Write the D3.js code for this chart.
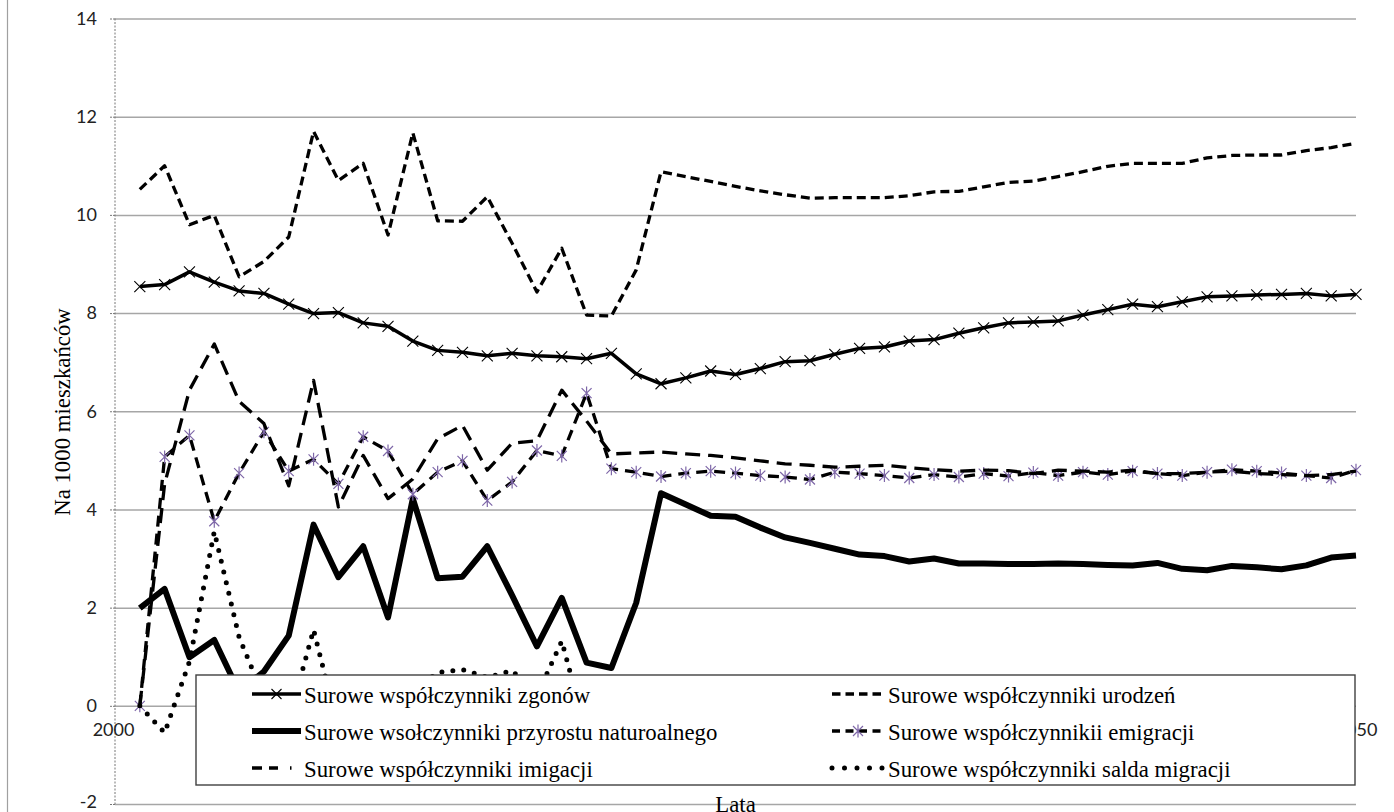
<!DOCTYPE html>
<html><head><meta charset="utf-8">
<script src="https://cdn.jsdelivr.net/npm/d3@7"></script>
<style>
html,body{margin:0;padding:0;background:#fff;}
svg{display:block;}
</style></head>
<body>
<svg id="chart" width="1394" height="812"></svg>
<script>
// ---------- DATA ----------
const years = [2001,2002,2003,2004,2005,2006,2007,2008,2009,2010,
  2011,2012,2013,2014,2015,2016,2017,2018,2019,2020,
  2021,2022,2023,2024,2025,2026,2027,2028,2029,2030,
  2031,2032,2033,2034,2035,2036,2037,2038,2039,2040,
  2041,2042,2043,2044,2045,2046,2047,2048,2049,2050];

const zgony = [8.54,8.58,8.84,8.63,8.45,8.40,8.18,7.99,8.01,7.80,
  7.73,7.43,7.24,7.20,7.13,7.18,7.13,7.11,7.07,7.18,
  6.76,6.56,6.68,6.82,6.75,6.87,7.01,7.03,7.16,7.28,
  7.31,7.43,7.46,7.59,7.70,7.80,7.82,7.84,7.96,8.07,
  8.18,8.13,8.23,8.33,8.35,8.37,8.38,8.40,8.35,8.38];

const urodzenia = [10.52,11.00,9.80,9.99,8.74,9.05,9.55,11.70,10.70,11.05,
  9.59,11.67,9.88,9.87,10.37,9.42,8.43,9.32,7.96,7.94,
  8.88,10.88,10.78,10.68,10.58,10.49,10.41,10.34,10.35,10.35,
  10.35,10.39,10.47,10.48,10.57,10.66,10.69,10.78,10.88,10.99,
  11.05,11.05,11.05,11.16,11.21,11.22,11.22,11.31,11.37,11.46];

const przyrost = [1.99,2.38,0.99,1.34,0.28,0.70,1.43,3.69,2.62,3.25,
  1.80,4.22,2.60,2.63,3.25,2.25,1.21,2.20,0.88,0.77,
  2.10,4.33,4.10,3.87,3.85,3.63,3.43,3.32,3.20,3.08,
  3.05,2.94,3.00,2.90,2.90,2.89,2.89,2.90,2.89,2.87,
  2.86,2.91,2.79,2.76,2.85,2.82,2.78,2.86,3.02,3.06];

const emigracja = [0.00,5.07,5.51,3.76,4.74,5.58,4.78,5.02,4.52,5.48,
  5.19,4.31,4.76,4.99,4.18,4.56,5.20,5.09,6.37,4.83,
  4.76,4.67,4.74,4.78,4.74,4.69,4.66,4.61,4.76,4.73,
  4.69,4.64,4.71,4.66,4.73,4.68,4.75,4.69,4.76,4.71,
  4.78,4.73,4.69,4.76,4.81,4.78,4.74,4.69,4.64,4.80];

const imigracja = [0.00,4.52,6.43,7.37,6.20,5.75,4.48,6.63,4.05,5.10,
  4.22,4.62,5.44,5.71,4.80,5.35,5.40,6.43,5.80,5.13,
  5.15,5.17,5.13,5.10,5.05,4.99,4.93,4.90,4.86,4.88,
  4.90,4.85,4.81,4.78,4.80,4.79,4.73,4.80,4.78,4.76,
  4.80,4.73,4.73,4.76,4.78,4.73,4.71,4.69,4.71,4.78];

const saldo = [0.00,-0.55,0.90,3.55,1.40,0.17,-0.30,1.55,-0.47,-0.38,
  -0.97,0.28,0.68,0.74,0.58,0.72,0.21,1.32,-0.57,0.30,
  0.39,0.50,0.39,0.32,0.31,0.30,0.27,0.29,0.10,0.15,
  0.21,0.21,0.10,0.12,0.07,0.11,-0.02,0.11,0.02,0.05,
  0.02,0.00,0.04,0.00,-0.03,-0.05,-0.03,0.00,0.07,-0.02];

const yTicks = [-2,0,2,4,6,8,10,12,14];
const yTickLabels = ["-2","0","2","4","6","8","10","12","14"];
const xTicks = [2000,2050];
const xTickLabels = ["2000","2050"];

const legendLabels = [
  "Surowe współczynniki zgonów",
  "Surowe współczynniki urodzeń",
  "Surowe wsołczynniki przyrostu naturoalnego",
  "Surowe współczynnikii emigracji",
  "Surowe współczynniki imigacji",
  "Surowe współczynniki salda migracji"
];
const yTitle = "Na 1000 mieszkańców";
const xTitle = "Lata";

// ---------- LAYOUT ----------
const svg = d3.select("#chart");
const L = 115, R = 1356, T = 18.5, B = 804;
const x = d3.scaleLinear().domain([2000, 2050]).range([L, R]);
const y = d3.scaleLinear().domain([-2, 14]).range([B, T]);
const purple = "#7E67A8";
const serif = "'Liberation Serif','Times New Roman',serif";
const sans = "Lato,'Open Sans',sans-serif";

// chart border (left)
svg.append("line").attr("x1",7.5).attr("x2",7.5).attr("y1",0).attr("y2",812)
  .attr("stroke","#a0a0a0").attr("stroke-width",1.2);

// gridlines
const grid = svg.append("g").attr("transform",`translate(${L},0)`)
  .call(d3.axisLeft(y).tickValues(yTicks).tickSize(-(R-L)).tickFormat(""));
grid.select(".domain").remove();
grid.selectAll("line").attr("stroke","#a6a6a6").attr("stroke-width",1.5);

// y axis (dotted line + ticks)
const yAxis = svg.append("g").attr("transform",`translate(${L},0)`)
  .call(d3.axisLeft(y).tickValues(yTicks).tickSize(6).tickPadding(12)
    .tickFormat((d,i)=>yTickLabels[i]));
yAxis.select(".domain").remove();
yAxis.selectAll(".tick line").attr("stroke","#777").attr("stroke-dasharray","2,1");
yAxis.selectAll("text").attr("font-family",sans).attr("font-size","18px").attr("fill","#222");
yAxis.selectAll(".tick").filter(d=>d===-2).select("text").attr("dy","0.2em");
svg.append("line").attr("x1",L).attr("x2",L).attr("y1",T).attr("y2",B)
  .attr("stroke","#777").attr("stroke-width",1).attr("stroke-dasharray","2,1.5");

// x axis at y=0 (inner labels hidden behind legend in the original)
const xAxis = svg.append("g").attr("transform",`translate(0,${y(0)})`)
  .call(d3.axisBottom(x).tickValues(xTicks).tickSize(0).tickPadding(17)
    .tickFormat((d,i)=>xTickLabels[i]));
xAxis.select(".domain").remove();
xAxis.selectAll("text").attr("font-family",sans).attr("font-size","18px").attr("fill","#222");
xAxis.selectAll(".tick").filter(d=>d===2000).select("text").attr("dx",-2);

// ---------- SERIES ----------
const line = d3.line().x((d,i)=>x(years[i])).y(d=>y(d));
const g = svg.append("g").attr("fill","none").attr("stroke-linejoin","round");

function path(data, opts){
  const p = g.append("path").datum(data).attr("d", line)
    .attr("stroke", opts.color || "#000").attr("stroke-width", opts.w)
    .attr("fill","none");
  if (opts.dash) p.attr("stroke-dasharray", opts.dash);
  if (opts.cap) p.attr("stroke-linecap", opts.cap);
  return p;
}
function xMarker(sel, cx, cy, r, color, w){
  sel.append("path").attr("d",`M${cx-r},${cy-r}L${cx+r},${cy+r}M${cx-r},${cy+r}L${cx+r},${cy-r}`)
    .attr("stroke",color).attr("stroke-width",w).attr("fill","none");
}
function starMarker(sel, cx, cy, r, color, w){
  sel.append("path").attr("d",`M${cx-r},${cy-r}L${cx+r},${cy+r}M${cx-r},${cy+r}L${cx+r},${cy-r}M${cx},${cy-r*1.3}L${cx},${cy+r*1.3}`)
    .attr("stroke",color).attr("stroke-width",w).attr("fill","none");
}

const styles = {
  zgony:    {w:3.5},
  urodz:    {w:3.3, dash:"9,5"},
  przyrost: {w:6},
  emig:     {w:3.3, dash:"11,7"},
  imig:     {w:3.3, dash:"15,8"},
  saldo:    {w:5, dash:"0,11", cap:"round"}
};

path(zgony, styles.zgony);
const mz = g.append("g");
zgony.forEach((v,i)=>xMarker(mz, x(years[i]), y(v), 5.5, "#000", 1.1));
path(urodzenia, styles.urodz);
path(przyrost, styles.przyrost);
path(emigracja, styles.emig);
const me = g.append("g");
emigracja.forEach((v,i)=>starMarker(me, x(years[i]), y(v), 5, purple, 1.2));
path(imigracja, styles.imig);
path(saldo, styles.saldo);

// ---------- LEGEND ----------
const lg = svg.append("g");
lg.append("rect").attr("x",196).attr("y",675).attr("width",1159).attr("height",110)
  .attr("fill","#fff").attr("stroke","#404040").attr("stroke-width",1.4);
const rowsY = [694, 731, 768];
const cols = [{x1:252, x2:301, tx:304},{x1:832, x2:884, tx:888}];
const legendStyles = [
  {s:styles.zgony, m:"x"}, {s:{w:3.3, dash:"8.5,5"}},
  {s:styles.przyrost}, {s:{w:3.3, dash:"8,5.5"}, m:"star"},
  {s:{w:3.3, dash:"10,7,9,12,1.5,20"}}, {s:{w:5, dash:"0,12.5", cap:"round"}}
];
legendLabels.forEach((lab,i)=>{
  const r = Math.floor(i/2), c = i%2;
  const cy = rowsY[r], col = cols[c], st = legendStyles[i];
  const ln = lg.append("line").attr("x1",col.x1).attr("x2",col.x2).attr("y1",cy).attr("y2",cy)
    .attr("stroke","#000").attr("stroke-width",st.s.w);
  if (st.s.dash) ln.attr("stroke-dasharray", st.s.dash);
  if (st.s.cap) ln.attr("stroke-linecap", st.s.cap);
  const mx = (col.x1+col.x2)/2;
  if (st.m==="x") xMarker(lg, mx, cy, 5, "#000", 1.1);
  if (st.m==="star") starMarker(lg, mx, cy, 5, purple, 1.2);
  lg.append("text").attr("x",col.tx).attr("y",cy+9).text(lab)
    .attr("font-family",serif).attr("font-size","22.8px").attr("fill","#000");
});

// ---------- TITLES ----------
svg.append("text").attr("transform","translate(70,412) rotate(-90)")
  .attr("text-anchor","middle").attr("font-family",serif).attr("font-size","22.8px")
  .attr("fill","#000").text(yTitle);
svg.append("text").attr("x",(L+R)/2).attr("y",812).attr("text-anchor","middle")
  .attr("font-family",serif).attr("font-size","22.8px").attr("fill","#000").text(xTitle);
</script>
</body></html>
